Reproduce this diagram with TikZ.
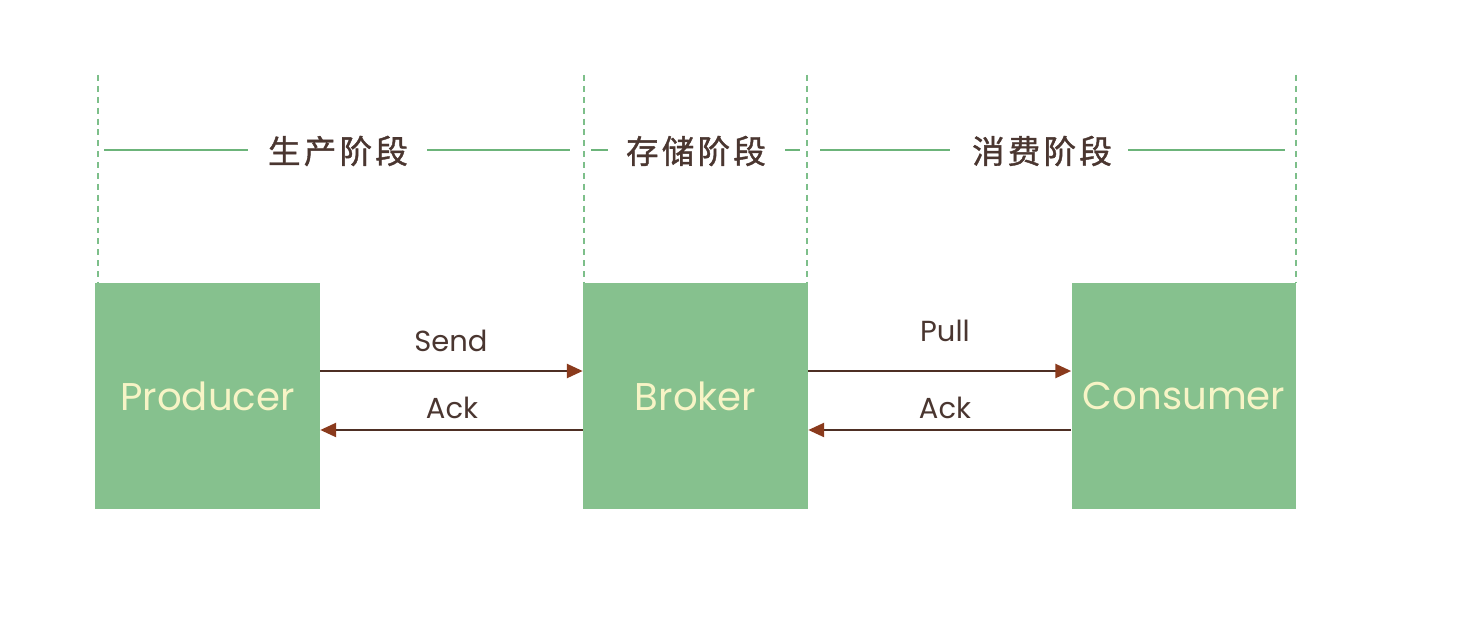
\documentclass[tikz,border=0pt]{standalone}
\usepackage{fontspec}
\setmainfont{Poppins}
\newfontfamily\cjk[LetterSpace=10,FakeBold=1.2]{Noto Sans CJK SC}
\usetikzlibrary{arrows.meta}
\definecolor{boxgreen}{HTML}{86C18E}
\definecolor{dashgreen}{HTML}{7DBF8A}
\definecolor{linegreen}{HTML}{6CB47A}
\definecolor{txtbrown}{HTML}{4A3630}
\definecolor{arrbrown}{HTML}{4E2F24}
\definecolor{headbrown}{HTML}{8A3A1C}
\definecolor{cream}{HTML}{F7F4C6}
\tikzset{
  stagebox/.style={fill=boxgreen, draw=none, minimum width=4.5cm, minimum height=4.52cm, inner sep=0pt,
     text=cream, font=\fontsize{22}{24}\selectfont},
  phase/.style={text=txtbrown, font=\cjk\fontsize{18.5}{20}\selectfont, inner sep=0pt},
  guide/.style={dashgreen, dash pattern=on 3.4pt off 2.8pt, line width=1.6pt},
  phaseline/.style={linegreen, line width=1.7pt},
  msg/.style={arrbrown, line width=1.2pt, -{Triangle[length=9pt,width=8pt,fill=headbrown,color=headbrown]}},
  msglabel/.style={text=txtbrown, font=\fontsize{16.5}{18}\selectfont, inner sep=0pt},
}
\begin{document}
\begin{tikzpicture}[x=0.02cm, y=-0.02cm]
\useasboundingbox (0,0) rectangle (1464,618);
\fill[white] (0,0) rectangle (1464,618);
% boxes
\node[stagebox] (P) at (207.5,396) {Producer};
\node[stagebox] (B) at (695.5,396) {Broker};
\node[stagebox] (C) at (1184,396) {Consumer};
% dashed guides
\coordinate (g1) at (98,75);
\coordinate (g2) at (584,75);
\coordinate (g3) at (807,75);
\coordinate (g4) at (1296,75);
\draw[guide] (g1) -- (g1 |- P.north);
\draw[guide] (g2) -- (g2 |- B.north);
\draw[guide] (g3) -- (g3 |- B.north);
\draw[guide] (g4) -- (g4 |- C.north);
% phase labels
\node[phase] (s1) at (338,151) {生产阶段};
\node[phase] (s2) at (696,151) {存储阶段};
\node[phase] (s3) at (1042,151) {消费阶段};
\coordinate (a1) at (104,150);
\coordinate (b1) at (570,150);
\coordinate (c1) at (248,150);
\coordinate (d1) at (427,150);
\coordinate (a2) at (591,150);
\coordinate (c2) at (608,150);
\coordinate (d2) at (785,150);
\coordinate (b2) at (800,150);
\coordinate (a3) at (820,150);
\coordinate (c3) at (950,150);
\coordinate (d3) at (1128,150);
\coordinate (b3) at (1285,150);
\draw[phaseline] (a1) -- (c1);
\draw[phaseline] (d1) -- (b1);
\draw[phaseline] (a2) -- (c2);
\draw[phaseline] (d2) -- (b2);
\draw[phaseline] (a3) -- (c3);
\draw[phaseline] (d3) -- (b3);
% messages
\draw[msg] ([yshift=0.5cm]P.east) -- ([yshift=0.5cm]B.west);
\draw[msg] ([yshift=-0.68cm]B.west) -- ([yshift=-0.68cm]P.east);
\draw[msg] ([yshift=0.5cm]B.east) -- ([yshift=0.5cm]C.west);
\draw[msg] ([yshift=-0.68cm]C.west) -- ([yshift=-0.68cm]B.east);
\node[msglabel] (l1) at (451,341) {Send};
\node[msglabel] (l2) at (452,408) {Ack};
\node[msglabel] (l3) at (945,331) {Pull};
\node[msglabel] (l4) at (945,408) {Ack};
\end{tikzpicture}
\end{document}
